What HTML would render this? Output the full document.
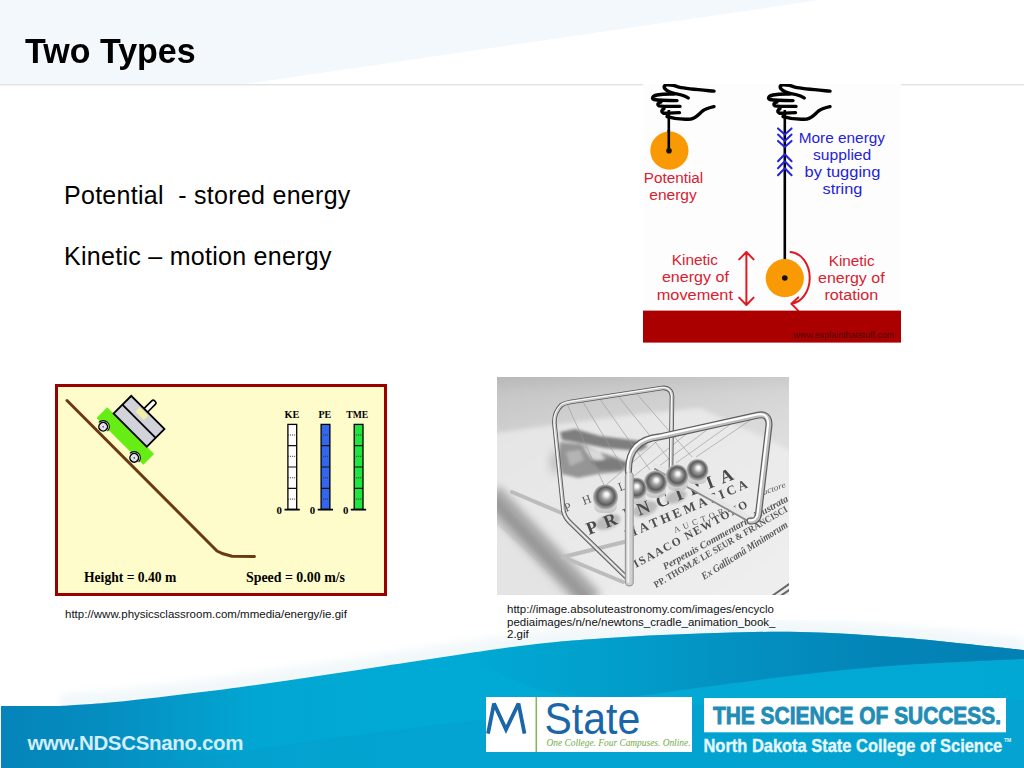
<!DOCTYPE html>
<html><head><meta charset="utf-8">
<style>
*{margin:0;padding:0;box-sizing:border-box}
html,body{width:1024px;height:768px;overflow:hidden;background:#fff}
body{position:relative;font-family:"Liberation Sans",sans-serif;color:#000}
.abs{position:absolute}
#hdr{left:0;top:0;width:1024px;height:86px}
#title{left:25px;top:29.4px;font-size:34px;font-weight:bold;line-height:40px;white-space:pre;transform:scaleY(1.055);transform-origin:0 0}
.body{left:64px;font-size:25px;line-height:30px;white-space:pre;letter-spacing:0.28px}
.cap{font-size:11.5px;line-height:12.5px;color:#111;white-space:pre;z-index:5}
#footer{left:0;top:620px;width:1024px;height:148px}
</style></head>
<body>
<!-- header band -->
<svg id="hdr" class="abs" width="1024" height="86" viewBox="0 0 1024 86">
  <polygon points="0,0 820,0 245,84 0,84" fill="#f3f8fc"/>
  <rect x="0" y="84" width="1024" height="1.5" fill="#e2e4e6"/>
</svg>
<div id="title" class="abs">Two Types</div>
<div class="abs body" style="top:180px">Potential  - stored energy</div>
<div class="abs body" style="top:241px">Kinetic – motion energy</div>

<!-- pendulum image placeholder -->
<svg class="abs" style="left:643px;top:84px" width="258" height="259" viewBox="0 0 258 259">
  <defs>
    <g id="hand" fill="none" stroke="#000" stroke-width="3.4" stroke-linecap="round" stroke-linejoin="round">
      <path d="M71,7.1 C58,6 44,5 36,3.2 C32,1.5 29,0.6 24,0.8 C21,1 20.5,3 22,4.8 C24,7.5 29,9 33,9.8 C37,10.6 42,11.5 45.2,14"/>
      <path d="M31,10 C25,9.8 19,10 14,11 C9,12 8.5,14.8 11,15.5 C16,16.6 26,16.6 34,16.6"/>
      <path d="M18,18 C15,18.5 14,20.5 16,21.8 C20,22.6 30,22.4 37,22.4"/>
      <path d="M21,24.8 C18.5,25.5 18,28 20.5,29.2 C25,29.4 31,28.8 36.5,28.6"/>
      <path d="M24,32.6 C30,34.4 40,35.6 48,35 C53,34 56,30 59.5,27 C63,24.5 67,23.5 71,22.7"/>
    </g>
  </defs>
  <rect x="0" y="0" width="258" height="259" fill="#fefdfd"/>
  <!-- left pendulum -->
  <use href="#hand" x="0" y="0"/>
  <line x1="25.8" y1="26" x2="25.8" y2="66" stroke="#000" stroke-width="2.6"/>
  <circle cx="26.4" cy="66.6" r="19.1" fill="#f99a05"/>
  <line x1="25.8" y1="46" x2="25.8" y2="66" stroke="#000" stroke-width="2.6"/>
  <circle cx="26" cy="66.8" r="2.8" fill="#111"/>
  <g fill="#d92030" font-family="Liberation Sans" font-size="14">
    <text x="0.8" y="98.9" textLength="59.4" lengthAdjust="spacingAndGlyphs">Potential</text>
    <text x="6.3" y="116" textLength="47.4" lengthAdjust="spacingAndGlyphs">energy</text>
  </g>
  <!-- right pendulum -->
  <use href="#hand" x="116" y="0"/>
  <line x1="141.8" y1="26" x2="141.8" y2="194" stroke="#000" stroke-width="2.6"/>
  <g fill="none" stroke="#2323d8" stroke-width="2" stroke-linecap="round" stroke-linejoin="round">
    <path d="M135,44.4 L141.8,50.6 L148.6,44.4 M135,50.6 L141.8,56.9 L148.6,50.6 M135,56.9 L141.8,63.1 L148.6,56.9"/>
    <path d="M135,77.2 L141.8,70.2 L148.6,77.2 M135,84.3 L141.8,77.2 L148.6,84.3 M135,91.3 L141.8,84.3 L148.6,91.3"/>
  </g>
  <g fill="#2323d8" font-family="Liberation Sans" font-size="14">
    <text x="155.75" y="58.5" textLength="86.25" lengthAdjust="spacingAndGlyphs">More energy</text>
    <text x="170" y="75.7" textLength="58.25" lengthAdjust="spacingAndGlyphs">supplied</text>
    <text x="161.5" y="92.9" textLength="75.8" lengthAdjust="spacingAndGlyphs">by tugging</text>
    <text x="179.5" y="110" textLength="39.8" lengthAdjust="spacingAndGlyphs">string</text>
  </g>
  <circle cx="141.8" cy="194.2" r="19.1" fill="#f99a05"/>
  <circle cx="141.8" cy="194" r="2.8" fill="#111"/>
  <!-- red arrows -->
  <g fill="none" stroke="#e01a22" stroke-width="2" stroke-linecap="round" stroke-linejoin="round">
    <path d="M103.4,168 L103.4,221 M96.2,175.4 L103.4,168 L110.6,175.4 M96.2,213.6 L103.4,221 L110.6,213.6"/>
    <path d="M147.5,168 A20.5,26 0 0 1 148.4,219.8 M155.2,213.4 L148.4,219.8 L155.2,226.6"/>
  </g>
  <g fill="#d92030" font-family="Liberation Sans" font-size="14">
    <text x="28.7" y="181.3" textLength="46.3" lengthAdjust="spacingAndGlyphs">Kinetic</text>
    <text x="18.9" y="198.4" textLength="67" lengthAdjust="spacingAndGlyphs">energy of</text>
    <text x="13.7" y="216.2" textLength="76.3" lengthAdjust="spacingAndGlyphs">movement</text>
    <text x="185.7" y="181.5" textLength="46" lengthAdjust="spacingAndGlyphs">Kinetic</text>
    <text x="175" y="198.5" textLength="66.6" lengthAdjust="spacingAndGlyphs">energy of</text>
    <text x="181.4" y="216.2" textLength="53.8" lengthAdjust="spacingAndGlyphs">rotation</text>
  </g>
  <!-- floor -->
  <rect x="0" y="226.6" width="258" height="32" fill="#aa0000"/>
  <text x="150.3" y="253.8" fill="#4a0a0a" font-family="Liberation Sans" font-size="8.5" textLength="101" lengthAdjust="spacingAndGlyphs">www.explainthatstuff.com</text>
</svg>


<!-- physics classroom placeholder -->
<svg class="abs" style="left:55px;top:384px" width="332" height="212" viewBox="55 384 332 212">
  <rect x="56.5" y="385.5" width="329" height="209" fill="#fffccc" stroke="#9a0000" stroke-width="3"/>
  <!-- track -->
  <path d="M67,400.5 L217,551 L223,553.8 L232,556.3 L254.5,556.6" fill="none" stroke="#6a3a10" stroke-width="3" stroke-linecap="round" stroke-linejoin="round"/>
  <!-- cart -->
  <g transform="translate(107.2,407.2) rotate(45)">
    <rect x="0" y="0" width="66.3" height="15.1" fill="#66ee14"/>
    <rect x="27" y="-38" width="5" height="14" rx="2" fill="#fff" stroke="#000" stroke-width="1.6"/>
    <rect x="9" y="-25" width="47" height="25" fill="#d2d2da" stroke="#000" stroke-width="1.8"/>
    <line x1="9" y1="-12.5" x2="56" y2="-12.5" stroke="#000" stroke-width="1.8"/>
    <rect x="23" y="-23" width="12" height="6" fill="#f4f49a" opacity="0.9"/>
    <path d="M4.8,16.7 A6.2,6.2 0 0 1 17.2,16.7 M48.7,16.7 A6.2,6.2 0 0 1 61.1,16.7" fill="#fffccc" stroke="#000" stroke-width="1.1"/>
    <circle cx="11" cy="16.7" r="4.3" fill="#e4e4ec" stroke="#000" stroke-width="1.5"/>
    <circle cx="11" cy="16.7" r="0.8" fill="#444"/>
    <circle cx="54.9" cy="16.7" r="4.3" fill="#e4e4ec" stroke="#000" stroke-width="1.5"/>
    <circle cx="54.9" cy="16.7" r="0.8" fill="#444"/>
  </g>
  <!-- bars -->
  <g stroke="#000" stroke-width="1.3">
    <rect x="287.9" y="424.4" width="8.8" height="85" fill="#fff"/>
    <rect x="321.1" y="424.4" width="8.8" height="85" fill="#3366ee"/>
    <rect x="354.2" y="424.4" width="8.8" height="85" fill="#1ee63c"/>
  </g>
  <g stroke="#111" stroke-width="1.2">
    <path d="M287.9,445.6 h8.8 M287.9,467 h8.8 M287.9,488.4 h8.8 M321.1,445.6 h8.8 M321.1,467 h8.8 M321.1,488.4 h8.8 M354.2,445.6 h8.8 M354.2,467 h8.8 M354.2,488.4 h8.8"/>
  </g>
  <g stroke="#333" stroke-width="1" stroke-dasharray="1,1">
    <path d="M287.9,435 h8.8 M287.9,456.3 h8.8 M287.9,477.8 h8.8 M287.9,499.1 h8.8 M321.1,435 h8.8 M321.1,456.3 h8.8 M321.1,477.8 h8.8 M321.1,499.1 h8.8 M354.2,435 h8.8 M354.2,456.3 h8.8 M354.2,477.8 h8.8 M354.2,499.1 h8.8"/>
  </g>
  <g stroke="#000" stroke-width="1.8">
    <path d="M284.5,509.6 H299.8 M317.7,509.6 H333 M350.8,509.6 H366.1"/>
  </g>
  <g font-family="Liberation Serif" font-weight="bold" fill="#000">
    <text x="276.6" y="514.3" font-size="11" textLength="5.4" lengthAdjust="spacingAndGlyphs">0</text>
    <text x="309.8" y="514.3" font-size="11" textLength="5.4" lengthAdjust="spacingAndGlyphs">0</text>
    <text x="342.9" y="514.3" font-size="11" textLength="5.4" lengthAdjust="spacingAndGlyphs">0</text>
    <text x="284.5" y="417.9" font-size="11" textLength="14.8" lengthAdjust="spacingAndGlyphs">KE</text>
    <text x="318.4" y="417.9" font-size="11" textLength="12.7" lengthAdjust="spacingAndGlyphs">PE</text>
    <text x="346.3" y="417.9" font-size="11" textLength="22" lengthAdjust="spacingAndGlyphs">TME</text>
    <text x="84" y="581.8" font-size="14.5" textLength="92.3" lengthAdjust="spacingAndGlyphs">Height = 0.40 m</text>
    <text x="246" y="581.8" font-size="14.5" textLength="99" lengthAdjust="spacingAndGlyphs">Speed = 0.00 m/s</text>
  </g>
</svg>

<div class="abs cap" style="left:65px;top:608px">http://www.physicsclassroom.com/mmedia/energy/ie.gif</div>

<!-- newton photo placeholder -->
<svg class="abs" style="left:497px;top:377px" width="292" height="218" viewBox="497 377 292 218">
  <defs>
    <clipPath id="pc"><rect x="497" y="377" width="292" height="218"/></clipPath>
    <linearGradient id="bgv" x1="0" y1="0" x2="0" y2="1">
      <stop offset="0" stop-color="#b8b8b8"/>
      <stop offset="0.08" stop-color="#c6c6c6"/>
      <stop offset="0.3" stop-color="#d2d2d2"/>
      <stop offset="1" stop-color="#dadada"/>
    </linearGradient>
    <linearGradient id="bgh" x1="0" y1="0" x2="1" y2="0">
      <stop offset="0" stop-color="#fff" stop-opacity="0"/>
      <stop offset="1" stop-color="#fff" stop-opacity="0.28"/>
    </linearGradient>
    <linearGradient id="book" x1="0" y1="0" x2="1" y2="1">
      <stop offset="0" stop-color="#e4e4e4"/>
      <stop offset="1" stop-color="#efefef"/>
    </linearGradient>
    <radialGradient id="ball" cx="0.5" cy="0.5" r="0.5" fx="0.55" fy="0.38">
      <stop offset="0" stop-color="#ffffff"/>
      <stop offset="0.15" stop-color="#f0f0f0"/>
      <stop offset="0.4" stop-color="#9a9a9a"/>
      <stop offset="0.7" stop-color="#5c5c5c"/>
      <stop offset="0.9" stop-color="#9c9c9c"/>
      <stop offset="1" stop-color="#c4c4c4"/>
    </radialGradient>
    <linearGradient id="refl" x1="0" y1="0" x2="0" y2="1">
      <stop offset="0" stop-color="#a8a8a8"/>
      <stop offset="0.5" stop-color="#d6d6d6"/>
      <stop offset="1" stop-color="#c4c4c4"/>
    </linearGradient>
    <filter id="bl2" filterUnits="userSpaceOnUse" x="480" y="360" width="330" height="260"><feGaussianBlur stdDeviation="2"/></filter>
    <filter id="bl4" filterUnits="userSpaceOnUse" x="480" y="360" width="330" height="260"><feGaussianBlur stdDeviation="4.5"/></filter>
    <filter id="bl1" filterUnits="userSpaceOnUse" x="480" y="360" width="330" height="260"><feGaussianBlur stdDeviation="0.6"/></filter>
    <filter id="bl15" filterUnits="userSpaceOnUse" x="480" y="360" width="330" height="260"><feGaussianBlur stdDeviation="1.4"/></filter>
  </defs>
  <g clip-path="url(#pc)">
    <rect x="497" y="377" width="292" height="218" fill="url(#bgv)"/>
    <rect x="497" y="377" width="292" height="218" fill="url(#bgh)"/>
    <!-- book top face -->
    <g filter="url(#bl2)">
      <polygon points="490,434 560,424 640,414 700,408 800,455 800,600 583,600 490,505" fill="url(#book)"/>
    </g>
    <!-- book page edge (lower-left) -->
    <polygon points="490,518 578,600 490,600" fill="#e4e4e4"/>
    <!-- dark rounded edge band -->
    <path d="M490,494 L592,602" stroke="#a6a6a6" stroke-width="24" filter="url(#bl4)"/>
    <path d="M493,500 L588,600" stroke="#999" stroke-width="8" filter="url(#bl2)"/>
    <!-- spine corner bottom right -->
    <path d="M772,596 L792,582 M776,599 L792,588" stroke="#666" stroke-width="2" filter="url(#bl1)"/>
    <!-- dark smudge (portrait reflection) -->
    <g filter="url(#bl4)" fill="#a8a8a8" opacity="0.6">
      <ellipse cx="556" cy="462" rx="6" ry="12"/>
    </g>
    <g filter="url(#bl15)">
      <polygon points="560,432 575,429 600,436 640,441 648,446 640,451 605,448 575,442 562,440" fill="#7e7e7e"/>
      <polygon points="560,442 580,444 600,452 618,458 630,466 620,472 598,474 578,478 562,474 558,458" fill="#959595"/>
      <polygon points="583,447 600,452 607,462 592,459" fill="#dadada"/>
      <polygon points="590,462 612,458 628,462 622,470 600,470" fill="#7c7c7c"/>
      <polygon points="566,452 580,450 584,460 570,466" fill="#b4b4b4"/>
    </g>
    <!-- shadows of frame on book -->
    <g fill="none" stroke="#bcbcbc" stroke-width="4" filter="url(#bl1)" stroke-linejoin="round" stroke-linecap="round">
      <path d="M512,492 L564,514 M563,557 L623,582"/>
      <path d="M563,557 L632,540"/>
    </g>
    <!-- ball shadows on page -->
    <g fill="#b2b2b2" filter="url(#bl15)" opacity="0.85">
      <ellipse cx="608" cy="522" rx="13" ry="7" transform="rotate(-20 608 522)"/>
      <ellipse cx="645" cy="509" rx="13" ry="7" transform="rotate(-20 645 509)"/>
      <ellipse cx="676" cy="497" rx="11" ry="6" transform="rotate(-20 676 497)"/>
    </g>
    <!-- book text -->
    <g font-family="Liberation Serif" fill="#5a5a5a" filter="url(#bl1)">
      <text transform="translate(566,512) rotate(-21)" font-size="12" letter-spacing="5">P H I L</text>
      <text transform="translate(589,535) rotate(-21)" font-size="18" fill="#4a4a4a" font-weight="bold" textLength="156" lengthAdjust="spacing">PRINCIPIA</text>
      <text transform="translate(627,539) rotate(-23)" font-size="13" fill="#505050" font-weight="bold" textLength="132" lengthAdjust="spacing">MATHEMATICA</text>
      <text transform="translate(675,533) rotate(-21.5)" font-size="8.5" textLength="62" lengthAdjust="spacing">AUCTORE</text>
      <text transform="translate(636,568) rotate(-28.6)" font-size="11.5" fill="#505050" font-weight="bold" textLength="128" lengthAdjust="spacing">ISAACO NEWTONO</text>
      <text transform="translate(665,570) rotate(-29.2)" font-size="10" font-style="italic" font-weight="bold" textLength="142" lengthAdjust="spacingAndGlyphs">Perpetuis Commentariis illustrata</text>
      <text transform="translate(656,588) rotate(-30.2)" font-size="9.5" font-weight="bold" textLength="153" lengthAdjust="spacingAndGlyphs">PP. THOMÆ LE SEUR &amp; FRANCISCI</text>
      <text transform="translate(704,580) rotate(-32.2)" font-size="10.5" font-style="italic" font-weight="bold" textLength="100" lengthAdjust="spacingAndGlyphs">Ex Gallicanâ Minimorum</text>
      <text transform="translate(758,497) rotate(-20)" font-size="8" font-style="italic" textLength="30" lengthAdjust="spacingAndGlyphs">Auctore</text>
    </g>
    <!-- strings -->
    <g stroke="#9a9a9a" stroke-width="0.65" fill="none">
      <path d="M567,404 L604,485 M583,402 L628,476 M600,399 L650,470 M618,396 L672,463 M636,393 L692,457"/>
      <path d="M662,437 L606,485 M690,431 L634,476 M712,426 L654,470 M735,421 L676,463 M755,417 L696,457"/>
    </g>
    <!-- back frame -->
    <g fill="none" stroke-linecap="round" stroke-linejoin="round">
      <path d="M563.5,511 L554.5,424 Q553.5,413 561.5,405 Q564.5,403 570.5,402 L662,388 Q671,387 672,396 L671,468 M563.5,511 Q564.5,517 569.5,522 L627,578" stroke="#5a5a5a" stroke-width="4.6"/>
      <path d="M563.5,511 L554.5,424 Q553.5,413 561.5,405 Q564.5,403 570.5,402 L662,388 Q671,387 672,396 L671,468 M563.5,511 Q564.5,517 569.5,522 L627,578" stroke="#c8c8c8" stroke-width="2.8"/>
      <path d="M563.5,511 L554.5,424 Q553.5,413 561.5,405 Q564.5,403 570.5,402 L662,388 Q671,387 672,396 L671,468 M563.5,511 Q564.5,517 569.5,522 L627,578" stroke="#ffffff" stroke-width="1" transform="translate(-0.5,-0.5)"/>
    </g>
    <!-- mirror plate edge -->
    <g fill="none" stroke-linecap="round">
      <path d="M655,469 L748,521" stroke="#e6e6e6" stroke-width="5" transform="translate(1,-3)"/>
      <path d="M655,469 L748,521" stroke="#8a8a8a" stroke-width="1.8" filter="url(#bl1)"/>
    </g>
    <!-- reflections below balls -->
    <g fill="url(#refl)" opacity="0.9">
      <rect x="594" y="496" width="23" height="17" rx="7"/>
      <rect x="626" y="488" width="20" height="16" rx="7"/>
      <rect x="645" y="482" width="21" height="16" rx="7"/>
      <rect x="667" y="476" width="21" height="15" rx="7"/>
      <rect x="687" y="470" width="20" height="14" rx="6"/>
    </g>
    <!-- balls -->
    <g>
      <circle cx="697.5" cy="470" r="11" fill="url(#ball)"/>
      <circle cx="677" cy="476" r="11.4" fill="url(#ball)"/>
      <circle cx="655.5" cy="482.5" r="11.7" fill="url(#ball)"/>
      <circle cx="636" cy="488.5" r="11" fill="url(#ball)"/>
      <circle cx="605.5" cy="497" r="12.6" fill="url(#ball)"/>
    </g>
    <!-- front frame (closer) -->
    <g fill="none" stroke-linecap="round" stroke-linejoin="round">
      <path d="M628.5,580 L628.5,470 Q628.5,440 660,436.8 L758,415.2 Q769,413 769,425 L758.5,514 Q757.5,522 750,521" stroke="#5e5e5e" stroke-width="7" filter="url(#bl1)"/>
      <path d="M628.5,580 L628.5,470 Q628.5,440 660,436.8 L758,415.2 Q769,413 769,425 L758.5,514 Q757.5,522 750,521" stroke="#bebebe" stroke-width="4.6" filter="url(#bl1)"/>
      <path d="M628.5,580 L628.5,470 Q628.5,440 660,436.8 L758,415.2 Q769,413 769,425 L758.5,514 Q757.5,522 750,521" stroke="#ffffff" stroke-width="2" transform="translate(-0.9,-0.7)"/>
      <path d="M629.3,582 L629.3,476" stroke="#9c9c9c" stroke-width="9" filter="url(#bl1)"/>
      <path d="M629.3,582 L629.3,476" stroke="#cfcfcf" stroke-width="6.6" filter="url(#bl1)"/>
      <path d="M628.3,582 L628.3,470" stroke="#f2f2f2" stroke-width="2"/>
    </g>
  </g>
</svg>

<div class="abs cap" style="left:507px;top:603px">http://image.absoluteastronomy.com/images/encyclo
pediaimages/n/ne/newtons_cradle_animation_book_
2.gif</div>

<!-- footer -->
<svg id="footer" class="abs" width="1024" height="148" viewBox="0 620 1024 148">
  <defs>
    <linearGradient id="fg" x1="0" y1="0" x2="1024" y2="0" gradientUnits="userSpaceOnUse">
      <stop offset="0" stop-color="#0584ba"/>
      <stop offset="0.1" stop-color="#058dc0"/>
      <stop offset="0.25" stop-color="#02a6d2"/>
      <stop offset="0.4" stop-color="#00aad4"/>
      <stop offset="1" stop-color="#02a8d4"/>
    </linearGradient>
    <linearGradient id="sw" x1="460" y1="0" x2="1024" y2="0" gradientUnits="userSpaceOnUse">
      <stop offset="0" stop-color="#0580b4" stop-opacity="0"/>
      <stop offset="0.25" stop-color="#0580b4" stop-opacity="0.25"/>
      <stop offset="0.5" stop-color="#0580b4" stop-opacity="0.6"/>
      <stop offset="0.75" stop-color="#0380b4" stop-opacity="0.9"/>
      <stop offset="1" stop-color="#0380b4" stop-opacity="1"/>
    </linearGradient>
    <filter id="hb" x="-5%" y="-20%" width="110%" height="140%"><feGaussianBlur stdDeviation="4"/></filter>
  </defs>
  <!-- faint haze above edge -->
  <path d="M60,706 C71.7,705.1 97.3,704.0 130,700.5 C162.7,697.0 213.7,690.8 256,685 C298.3,679.2 340.0,672.5 384,666 C428.0,659.5 484.0,650.6 520,646 C556.0,641.4 570.0,640.6 600,638.5 C630.0,636.4 666.7,634.6 700,633.5 C733.3,632.4 766.7,631.3 800,632 C833.3,632.7 866.7,634.9 900,637.5 C933.3,640.1 979.3,645.4 1000,647.5 C1020.7,649.6 1020.0,649.6 1024,650 L1024,768 L60,768 Z" fill="#e6f1f6" opacity="0.55" transform="translate(0,-12)" filter="url(#hb)"/>
  <path d="M1,706 L60,706 C71.7,705.1 97.3,704.0 130,700.5 C162.7,697.0 213.7,690.8 256,685 C298.3,679.2 340.0,672.5 384,666 C428.0,659.5 484.0,650.6 520,646 C556.0,641.4 570.0,640.6 600,638.5 C630.0,636.4 666.7,634.6 700,633.5 C733.3,632.4 766.7,631.3 800,632 C833.3,632.7 866.7,634.9 900,637.5 C933.3,640.1 979.3,645.4 1000,647.5 C1020.7,649.6 1020.0,649.6 1024,650 L1024,768 L1,768 Z" fill="url(#fg)"/>
  <!-- dark swoosh -->
  <path d="M460,653 C470.0,651.8 496.7,648.4 520,646 C543.3,643.6 570.0,640.6 600,638.5 C630.0,636.4 666.7,634.6 700,633.5 C733.3,632.4 766.7,631.3 800,632 C833.3,632.7 866.7,634.9 900,637.5 C933.3,640.1 979.3,645.4 1000,647.5 C1020.7,649.6 1020.0,649.6 1024,650 L1024,659 C1003.3,660.0 937.3,662.7 900,665.3 C862.7,667.9 833.3,671.1 800,674.8 C766.7,678.5 730.0,683.8 700,687.5 C670.0,691.2 646.7,696.6 620,697 C593.3,697.4 566.7,697.3 540,690 C513.3,682.7 473.3,659.2 460,653 Z" fill="url(#sw)"/>
  <!-- lower subtle darker band -->
  <path d="M150,768 C250,748 400,728 520,716 C650,704 800,700 1024,700 L1024,768 Z" fill="#0b93c6" opacity="0.25"/>
</svg>
<div class="abs" style="left:27.5px;top:731px;font-size:20.5px;line-height:24px;font-weight:bold;color:#d2eefa;white-space:pre;letter-spacing:-0.34px">www.NDSCSnano.com</div>
<svg class="abs" style="left:486px;top:697px" width="206" height="55" viewBox="486 697 206 55">
  <rect x="486" y="697" width="206" height="55" fill="#fff"/>
  <path d="M488,733.6 L494,703.5 L506,729.5 L518.5,703.5 L524.5,733.6" fill="none" stroke="#1a66a9" stroke-width="3.8" stroke-linejoin="miter" stroke-miterlimit="3"/>
  <rect x="535.5" y="697" width="1.6" height="55" fill="#80b860"/>
  <text x="544.5" y="734.2" font-family="Liberation Sans" font-size="42" fill="#1a66a9" textLength="95.7" lengthAdjust="spacingAndGlyphs" transform="translate(0,-36.7) scale(1,1.05)">State</text>
  <text x="546.5" y="745.6" font-family="Liberation Serif" font-style="italic" font-size="10" fill="#72ac4c" textLength="144" lengthAdjust="spacingAndGlyphs">One College. Four Campuses. Online.</text>
</svg>
<svg class="abs" style="left:704px;top:698px" width="320" height="70" viewBox="704 698 320 70">
  <rect x="704" y="698" width="302" height="34.3" fill="#fff"/>
  <text x="713" y="724" font-family="Liberation Sans" font-weight="bold" font-size="24" fill="#1f8db6" stroke="#1f8db6" stroke-width="0.9" textLength="288" lengthAdjust="spacingAndGlyphs">THE SCIENCE OF SUCCESS.</text>
  <text x="703.5" y="751.5" font-family="Liberation Sans" font-weight="bold" font-size="17.7" fill="#e6f7fc" stroke="#e6f7fc" stroke-width="0.35" textLength="298.7" lengthAdjust="spacingAndGlyphs">North Dakota State College of Science</text>
  <text x="1004" y="742" font-family="Liberation Sans" font-weight="bold" font-size="5" fill="#e6f7fc">TM</text>
</svg>

</body></html>
